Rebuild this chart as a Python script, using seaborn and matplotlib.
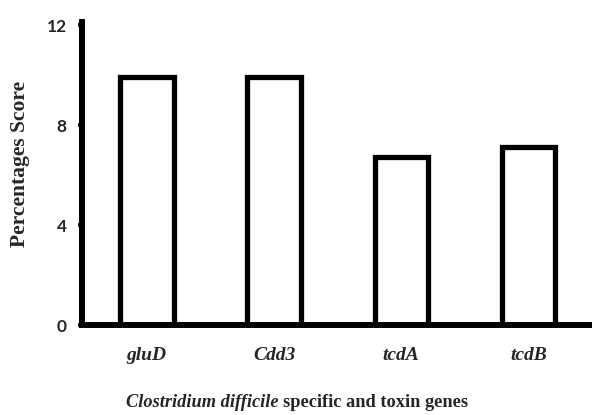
import matplotlib
matplotlib.use("Agg")
import matplotlib.pyplot as plt
import seaborn as sns
import pandas as pd

# data
genes = ["gluD", "Cdd3", "tcdA", "tcdB"]
scores = [9.9, 9.9, 6.7, 7.1]
yticks = [0, 4, 8, 12]

df = pd.DataFrame({"gene": genes, "score": scores})

sns.set_style("ticks")
fig = plt.figure(figsize=(5.92, 4.15), dpi=100)
ax = fig.add_axes([82 / 592, 90 / 415, 1 - 82 / 592, (325 - 22) / 415])

sns.barplot(data=df, x="gene", y="score", color="white", edgecolor="black",
            linewidth=3.8, width=0.42, saturation=1, ax=ax)

ax.set_xlim(-0.51, 3.5)
ax.set_ylim(0, 12.12)
ax.set_yticks(yticks)
ax.set_yticklabels([str(t) for t in yticks], fontsize=12.5, fontweight="bold",
                   family="Lato")
ax.set_xticks(range(len(genes)))
ax.set_xticklabels(genes, fontsize=14, fontweight="bold", style="italic",
                   family="Liberation Serif")
ax.tick_params(axis="x", length=0, pad=16)
ax.tick_params(axis="y", length=3, width=3, direction="out", pad=8)

for side in ["top", "right"]:
    ax.spines[side].set_visible(False)
for side in ["left", "bottom"]:
    ax.spines[side].set_linewidth(4.3)
    ax.spines[side].set_color("black")

ax.set_xlabel("")
ax.set_ylabel("Percentages Score", fontsize=15.5, fontweight="bold",
              family="Liberation Serif")
ax.yaxis.set_label_coords(-0.102, 0.53)

# x label with mixed styles
fig.text(279 / 592, 4 / 415, "Clostridium difficile", ha="right", va="bottom",
         fontsize=13.2, fontweight="bold", style="italic", family="Liberation Serif")
fig.text(283 / 592, 4 / 415, "specific and toxin genes", ha="left", va="bottom",
         fontsize=13.2, fontweight="bold", family="Liberation Serif")

fig.savefig("out.png", dpi=100)
